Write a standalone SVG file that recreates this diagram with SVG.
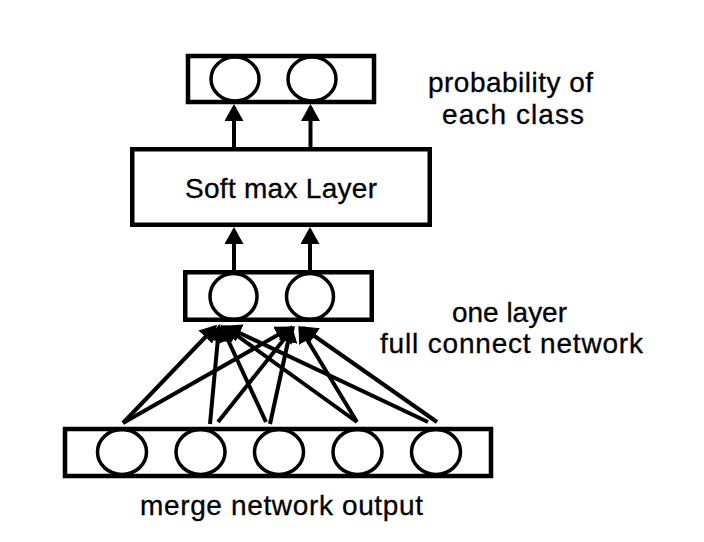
<svg xmlns="http://www.w3.org/2000/svg" width="704" height="542" viewBox="0 0 704 542">
<style>
.box{fill:none;stroke:#000;stroke-width:4.5}
.unit{fill:none;stroke:#000;stroke-width:3.5}
.lbl{font-family:"Liberation Sans",Arial,sans-serif;font-size:28px;fill:#000;stroke:#000;stroke-width:0.3;text-anchor:middle}
.conn line{stroke:#000;stroke-width:4;marker-end:url(#ah)}
</style>
<defs>
<marker id="ah" markerUnits="userSpaceOnUse" markerWidth="17" markerHeight="19" refX="14" refY="9.5" orient="auto">
<path d="M0,0 L17,9.5 L0,19 z" fill="#000"/>
</marker>
</defs>
<rect width="704" height="542" fill="#fff"/>
<g id="output-layer">
<rect class="box" x="188" y="56" width="186" height="46"/>
<ellipse class="unit" cx="235" cy="79" rx="24" ry="22"/>
<ellipse class="unit" cx="312" cy="79" rx="24" ry="22"/>
</g>
<g id="softmax-layer">
<rect class="box" x="132.25" y="149.25" width="297.5" height="75.5"/>
<text class="lbl" x="281" y="198" textLength="192" lengthAdjust="spacing">Soft max Layer</text>
</g>
<g id="fc-layer">
<rect class="box" x="185.25" y="272.25" width="186.5" height="47.5"/>
<ellipse class="unit" cx="233.5" cy="296.5" rx="23.5" ry="23"/>
<ellipse class="unit" cx="310" cy="296.5" rx="23.5" ry="23"/>
</g>
<g id="merge-layer">
<rect class="box" x="65" y="429" width="426" height="47"/>
<ellipse class="unit" cx="122" cy="452" rx="24.5" ry="22.5"/>
<ellipse class="unit" cx="200.5" cy="452" rx="24.5" ry="22.5"/>
<ellipse class="unit" cx="279" cy="452" rx="24.5" ry="22.5"/>
<ellipse class="unit" cx="357.5" cy="452" rx="24.5" ry="22.5"/>
<ellipse class="unit" cx="436" cy="452" rx="24.5" ry="22.5"/>
</g>
<g id="labels">
<text class="lbl" x="510.5" y="92" textLength="165" lengthAdjust="spacing">probability of</text>
<text class="lbl" x="513" y="124" textLength="142" lengthAdjust="spacing">each class</text>
<text class="lbl" x="509.5" y="322" textLength="115" lengthAdjust="spacing">one layer</text>
<text class="lbl" x="511.5" y="353" textLength="263" lengthAdjust="spacing">full connect network</text>
<text class="lbl" x="281.5" y="515" textLength="283" lengthAdjust="spacing">merge network output</text>
</g>
<g id="connectors" class="conn">
<line x1="234" y1="147" x2="234" y2="107"/>
<line x1="310.5" y1="147" x2="310.5" y2="107"/>
<line x1="234" y1="270" x2="234" y2="230"/>
<line x1="310" y1="270" x2="310" y2="230"/>
<line x1="123" y1="423" x2="215" y2="327"/>
<line x1="210" y1="424" x2="219" y2="327"/>
<line x1="266" y1="422" x2="222" y2="327"/>
<line x1="357" y1="422" x2="225" y2="327"/>
<line x1="428" y1="422" x2="227" y2="327"/>
<line x1="123" y1="423" x2="290" y2="328"/>
<line x1="218" y1="422" x2="293" y2="328"/>
<line x1="270" y1="424" x2="291" y2="328"/>
<line x1="357" y1="422" x2="300" y2="328"/>
<line x1="437" y1="422" x2="303" y2="328"/>
</g>
</svg>
